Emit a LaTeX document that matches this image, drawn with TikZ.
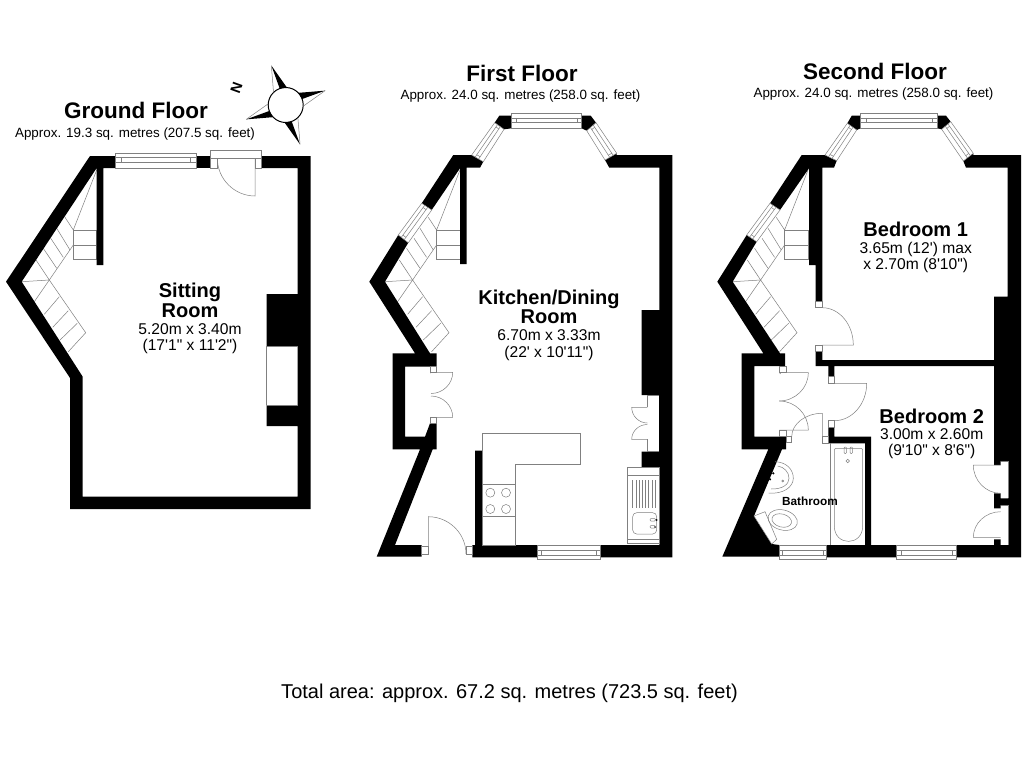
\documentclass[tikz,border=0pt]{standalone}
\usepackage{fontspec}
\usetikzlibrary{calc, positioning}
\newfontfamily\planfont{Liberation Sans}

\newcommand{\casement}[4]{
    \coordinate (ca) at (#1);
    \coordinate (cb) at (#2);
    \coordinate (cc) at (#3);
    \coordinate (cd) at (#4);
    \draw[fitting, fill=white] (ca) -- (cb) -- (cc) -- (cd) -- cycle;
    \coordinate (ia) at ($(ca)!.3!(cb)$);
    \coordinate (ib) at ($(ca)!.6!(cb)$);
    \coordinate (ic) at ($(cd)!.6!(cc)$);
    \coordinate (id) at ($(cd)!.3!(cc)$);
    \draw[fitting] (ia) -- (id) (ib) -- (ic);
    \draw[fitting] ($(ia)!.07!(id)$) -- ($(ib)!.07!(ic)$);
    \draw[fitting] ($(ia)!.93!(id)$) -- ($(ib)!.93!(ic)$);
}
\newcommand{\doorleaf}[3]{
    \draw[fitting] (#1) -- (#2) .. controls ($(#2)+0.55*(#3)-0.55*(#1)$) and ($(#3)+0.55*(#2)-0.55*(#1)$) .. (#3);
}
\newcommand{\stairflight}[1]{
    \begin{scope}[xshift=#1pt]
    \draw[fitting] (96.7,170) -- (73.3,230) -- (65,217.3);
    \draw[fitting] (73.3,230) rectangle (96.7,259.3);
    \draw[fitting] (73.3,245) -- (96.7,245);
    \draw[fitting] (73.3,245) -- (49.3,280) -- (85.7,332.7) -- (68.3,351.7);
    \draw[fitting] (56.7,228.3) -- (70,250);
    \draw[fitting] (50.7,238.3) -- (63.3,257.3);
    \draw[fitting] (43.3,248.3) -- (56.7,268.3);
    \draw[fitting] (36,260) -- (49.3,280) -- (21.7,281.7);
    \draw[fitting] (49.3,280) -- (34.3,301.7);
    \draw[fitting] (59.3,296.7) -- (44.3,314.3);
    \draw[fitting] (68.3,310.7) -- (52.7,327.3);
    \draw[fitting] (77.3,323.3) -- (60,340);
    \end{scope}
}

\begin{document}
\begin{tikzpicture}[x=1pt, y=-1pt]
\tikzset{every node/.style={inner sep=0mm, outer sep=0mm}}

\tikzstyle{wall}=[fill=black]
\tikzstyle{fitting}=[draw=black!50, line width=0.5pt]
\tikzstyle{jamb}=[fitting, fill=white]
\tikzstyle{floorname}=[font=\planfont\fontsize{22.5}{24}\selectfont\bfseries]
\tikzstyle{floorarea}=[font=\planfont\fontsize{13.4}{15}\selectfont]
\tikzstyle{roomname}=[align=center, font=\planfont\fontsize{20}{19.5}\selectfont\bfseries]
\tikzstyle{roomsize}=[align=center, font=\planfont\fontsize{15.6}{16.4}\selectfont]

\useasboundingbox (0,0) rectangle (1024,768);
\fill[white] (0,0) rectangle (1024,768);

% compass
\node[draw, circle, fill=white, line width=1pt, minimum size=35pt] (compass) at (285.7,105) {};
\foreach \a/\s in {70/1, -20/-1, 250/1, 160/-1} {
    \fill[black] ($(compass)+(\a:42)$) -- ($(compass)+(\a+\s*24:17.5)$) -- ($(compass)+(\a:17.5)$) -- cycle;
    \draw[fitting] ($(compass)+(\a:42)$) -- ($(compass)+(\a-\s*24:17.5)$);
}
\node[rotate=70, font=\planfont\fontsize{14.5}{14.5}\selectfont\bfseries] (north) at (236.5,87.5) {N};

% ground floor
\stairflight{0}
\fill[wall] (90,156) -- (115.7,156) -- (115.7,168) -- (103.3,168) -- (103.3,265) -- (96.7,265) -- (96.7,168) -- (21.7,281.7) -- (82.7,376.7) -- (82.7,496.7) -- (297.7,496.7) -- (297.7,426) -- (266.7,426) -- (266.7,405) -- (297.7,405) -- (297.7,346) -- (266.7,346) -- (266.7,294) -- (297.7,294) -- (297.7,168) -- (261.7,168) -- (261.7,156) -- (310.7,156) -- (310.7,509) -- (70,509) -- (70,378) -- (6,281.7) -- cycle;
\fill[wall] (196,156) rectangle (210.7,168);
\draw[fitting] (266.7,405) -- (266.7,346) -- (297.7,346);
\draw[fitting] (266.7,405) -- (297.7,405);
\casement{115.7,153}{115.7,168}{196,168}{196,153}
\doorleaf{255,158}{255,196}{217.3,158}
\draw[jamb] (210.7,150) rectangle (261.7,158.3);
\draw[jamb] (210.7,158.3) rectangle (217.3,168);
\draw[jamb] (255,158.3) rectangle (261.7,168);

% first floor
\stairflight{363.3}
\fill[wall] (453.3,155) -- (471.7,155) -- (483.3,161.7) -- (480,167.7) -- (466.7,167.7) -- (466.7,264) -- (460,264) -- (460,168.3) -- (431.7,210) -- (421.7,203.3) -- cycle;
\fill[wall] (499.3,115.7) -- (511.7,115.7) -- (511.7,128.3) -- (504,129.3) -- (494.7,122.7) -- cycle;
\fill[wall] (581.7,115.7) -- (590.7,115.7) -- (596,122.7) -- (586.7,130.7) -- (581.7,128.3) -- cycle;
\fill[wall] (605,160) -- (616.7,153.3) -- (616.7,155) -- (672.3,155) -- (672.3,557.3) -- (600.7,557.3) -- (600.7,545) -- (659.3,545) -- (659.3,467.3) -- (641.7,467.3) -- (641.7,451.7) -- (659,451.7) -- (659,395) -- (641.7,395) -- (641.7,310) -- (659.3,310) -- (659.3,167.7) -- (609.3,167.7) -- cycle;
\fill[wall] (398.3,235) -- (408.3,242.7) -- (385,281.7) -- (430,353.3) -- (436.7,353.3) -- (436.7,366.7) -- (430,373.3) -- (430,366.7) -- (405,366.7) -- (405,436.7) -- (425,436.7) -- (430,423.3) -- (436.7,423.3) -- (436.7,449.3) -- (432.7,449.3) -- (395,545) -- (421.7,545) -- (421.7,556.7) -- (376.7,556.7) -- (420,449.3) -- (392.7,449.3) -- (392.7,353.3) -- (415,353.3) -- (369.3,281.7) -- cycle;
\fill[wall] (475,450.7) -- (482.7,450.7) -- (482.7,545) -- (537.3,545) -- (537.3,557.3) -- (472.3,557.3) -- (472.3,545) -- (475,545) -- cycle;
\casement{511.7,113.3}{511.7,128.3}{581.7,128.3}{581.7,113.3}
\casement{494.7,122.7}{504,129.3}{483.3,161.7}{471.7,155}
\casement{596,122.7}{586.7,130.7}{605,160}{616.7,153.3}
\casement{421.7,203.3}{431.7,210}{408.3,242.7}{398.3,235}
\casement{537.3,559.3}{537.3,545}{600.7,545}{600.7,559.3}
\doorleaf{431,372.3}{452.7,372.3}{431,393.5}
\doorleaf{431,417.3}{452.7,417.3}{431,396}
\draw[jamb] (430,366.7) rectangle (436.7,372.7);
\draw[jamb] (430,417.3) rectangle (436.7,423.3);
\draw[fitting] (659,395) -- (647.3,395) -- (647.3,407.3);
\draw[fitting] (659,451.7) -- (647.3,451.7) -- (647.3,439.3);
\doorleaf{647.3,407.3}{631.7,407.3}{647.3,423}
\doorleaf{647.3,439.3}{631.7,439.3}{647.3,424.5}
\doorleaf{428.3,554}{428.3,516.7}{466,554}
\draw[jamb] (421.7,546.7) rectangle (428.3,554);
\draw[jamb] (466,546.7) rectangle (472.3,554);
% kitchen units
\draw[fitting] (482.7,433.3) -- (580,433.3) -- (580,464.7) -- (515,464.7) -- (515,545) -- (482.7,545) -- cycle;
\draw[fitting] (482.7,484.7) rectangle (515,516.7);
\foreach \hx/\hy in {490.3/492.7, 506/492.7, 490.3/509, 506/509} {
    \draw[fitting] (\hx,\hy) circle (4.5pt);
}
\draw[fitting] (627.3,467.3) rectangle (659,543.3);
\draw[fitting] (627.3,475) -- (659,475) (627.3,539) -- (659,539);
\foreach \dx in {632.7,635.9,...,655.5} {
    \draw[fitting] (\dx,480) -- (\dx,508.3);
}
\draw[fitting, rounded corners=4pt] (632.7,512.7) rectangle (656.7,534);
\fill[black] (656.5,520) circle (1pt) (655,527) circle (1pt);
\draw[fitting, rounded corners=1pt] (650,518.5) rectangle (655.5,521);
\draw[fitting, rounded corners=1pt] (650,525.5) rectangle (655.5,528);

% second floor
\stairflight{711.3}
\fill[wall] (801.7,155) -- (825,155) -- (836.7,160.7) -- (834,167.7) -- (822.3,167.7) -- (822.3,301) -- (815.7,301) -- (815.7,265) -- (809,265) -- (809,168.3) -- (780,210) -- (770,203.3) -- cycle;
\fill[wall] (851.7,115.7) -- (860.7,115.7) -- (860.7,128.3) -- (856.7,130) -- (847.3,123.3) -- cycle;
\fill[wall] (937.3,115.7) -- (946,115.7) -- (950.7,121.7) -- (941.7,129.3) -- (937.3,128.3) -- cycle;
\fill[wall] (963.3,161) -- (973.3,153.3) -- (973.3,155) -- (1021,155) -- (1021,557.3) -- (956,557.3) -- (956,545) -- (994,545) -- (994,539.3) -- (1000.7,539.3) -- (1000.7,545) -- (1008.3,545) -- (1008.3,505) -- (1000.7,505) -- (1000.7,508.3) -- (994,508.3) -- (994,493.3) -- (1000.7,493.3) -- (1000.7,498.3) -- (1008.3,498.3) -- (1008.3,461) -- (1000.7,461) -- (1000.7,465) -- (994,465) -- (994,296.7) -- (1007.7,296.7) -- (1007.7,167.7) -- (966,167.7) -- cycle;
\fill[wall] (746.7,235) -- (756.7,241.7) -- (732.7,281.7) -- (780,353.3) -- (785,353.3) -- (785,366) -- (780,374) -- (779,366) -- (754.3,366) -- (754.3,436.7) -- (786,436.7) -- (786,449.3) -- (782,449.3) -- (754,516) -- (771.7,544) -- (779.3,545) -- (779.3,556.7) -- (722.3,556.7) -- (768.3,449.3) -- (741.7,449.3) -- (741.7,353.3) -- (763.3,353.3) -- (717.3,281.7) -- cycle;
\fill[wall] (828.3,427.3) -- (834.3,427.3) -- (834.3,436.7) -- (871,436.7) -- (871,545) -- (896.7,545) -- (896.7,557.3) -- (826.7,557.3) -- (826.7,545) -- (865,545) -- (865,443.3) -- (828.3,443.3) -- cycle;
\fill[wall] (815.7,351.7) -- (822.3,351.7) -- (822.3,360) -- (994,360) -- (994,366) -- (834.3,366) -- (834.3,376.7) -- (828.3,376.7) -- (828.3,366) -- (815.7,366) -- cycle;
\casement{860.7,113.3}{860.7,128.3}{937.3,128.3}{937.3,113.3}
\casement{847.3,123.3}{856.7,130}{836.7,160.7}{825,155}
\casement{950.7,121.7}{941.7,129.3}{963.3,161}{973.3,153.3}
\casement{770,203.3}{780,210}{756.7,241.7}{746.7,235}
\casement{779.3,559.3}{779.3,545}{826.7,545}{826.7,559.3}
\casement{896.7,559.3}{896.7,545}{956,545}{956,559.3}
\doorleaf{822.3,345}{853.3,345}{822.3,307.7}
\draw[jamb] (815.7,301) rectangle (822.3,307.7);
\draw[jamb] (815.7,345) rectangle (822.3,351.7);
\doorleaf{834.3,383.3}{866.7,383.3}{834.3,420.7}
\draw[jamb] (828.3,376.7) rectangle (834.3,383.3);
\draw[jamb] (828.3,420.7) rectangle (834.3,427.3);
\doorleaf{779,372.7}{808.3,372.7}{779,401}
\doorleaf{779.3,430}{808.3,430}{779.3,401}
\draw[jamb] (779.3,366) rectangle (786,372.7);
\draw[jamb] (779.3,430) rectangle (786,436.7);
\doorleaf{822.3,436.7}{822.3,413.3}{791.7,436.7}
\draw[jamb] (786,436.7) rectangle (791.7,442.7);
\draw[jamb] (822.3,436.7) rectangle (828.3,443.3);
\draw[fitting] (1000.7,461) -- (1008.3,461) -- (1008.3,498.3);
\draw[fitting] (1000.7,505) -- (1008.3,505) -- (1008.3,545);
\doorleaf{1000.7,465}{973.3,465}{1000.7,493.3}
\doorleaf{1000.7,537.3}{973.3,537.3}{1000.7,511.7}
% bathroom fittings
\draw[fitting] (830.7,443.3) -- (830.7,545);
\draw[fitting, rounded corners=2pt] (862.7,526) -- (862.7,448.3) -- (834.3,448.3) -- (834.3,526);
\draw[fitting] (834.3,526) .. controls (834.3,546.5) and (862.7,546.5) .. (862.7,526);
\draw[fitting, rounded corners=1pt] (844,447) rectangle (846.6,453.5);
\draw[fitting, rounded corners=1pt] (850,447) rectangle (852.6,453.5);
\draw[fitting] (847.7,461) circle (1.7pt);
\draw[fitting] (775,461.7) .. controls (786,462) and (793.3,469) .. (793.3,478.3) .. controls (793.3,487) and (783,494.5) .. (768.5,493);
\draw[fitting] (777.7,466) .. controls (784,467) and (789,472) .. (789,478.3) .. controls (789,484) and (783,489.3) .. (771,489);
\fill[black] (773.3,473.3) circle (1.2pt) (770,479.3) circle (1.2pt);
\draw[fitting] (782.7,481) circle (1pt);
\draw[fitting, fill=white] (754,516) -- (765,511.7) -- (776.7,539.3) -- (771.7,544) -- cycle;
\draw[fitting] (782.7,520) ellipse [x radius=15pt, y radius=10pt, rotate=-15];
\draw[fitting] (781.7,520.5) ellipse [x radius=10pt, y radius=6.5pt, rotate=-15];

% labels
\node[floorname] (ground title) at (136,110) {Ground Floor};
\node[floorarea, below=9.5pt of ground title, xshift=-1pt] (ground area) {Approx. 19.3 sq. metres (207.5 sq. feet)};
\node[floorname] (first title) at (522,73) {First Floor};
\node[floorarea, below=8.5pt of first title, xshift=-1.5pt] (first area) {Approx. 24.0 sq. metres (258.0 sq. feet)};
\node[floorname] (second title) at (875,71) {Second Floor};
\node[floorarea, below=8.5pt of second title, xshift=-1.5pt] (second area) {Approx. 24.0 sq. metres (258.0 sq. feet)};

\node[roomname] (sitting) at (190,300.5) {Sitting\\Room};
\node[roomsize, below=6pt of sitting] (sitting size) {5.20m x 3.40m\\(17'1" x 11'2")};
\node[roomname] (kitchen) at (549,307) {Kitchen/Dining\\Room};
\node[roomsize, below=6pt of kitchen] (kitchen size) {6.70m x 3.33m\\(22' x 10'11")};
\node[roomname] (bedroom one) at (915.7,229) {Bedroom 1};
\node[roomsize, below=5.5pt of bedroom one] (bedroom one size) {3.65m (12') max\\x 2.70m (8'10")};
\node[roomname] (bedroom two) at (931.7,416) {Bedroom 2};
\node[roomsize, below=5pt of bedroom two] (bedroom two size) {3.00m x 2.60m\\(9'10" x 8'6")};
\node[font=\planfont\fontsize{11.8}{13}\selectfont\bfseries] (bathroom) at (810,501) {Bathroom};
\node[font=\planfont\fontsize{20}{22}\selectfont] (total) at (509.5,693) {Total area: approx. 67.2 sq. metres (723.5 sq. feet)};

\end{tikzpicture}
\end{document}
